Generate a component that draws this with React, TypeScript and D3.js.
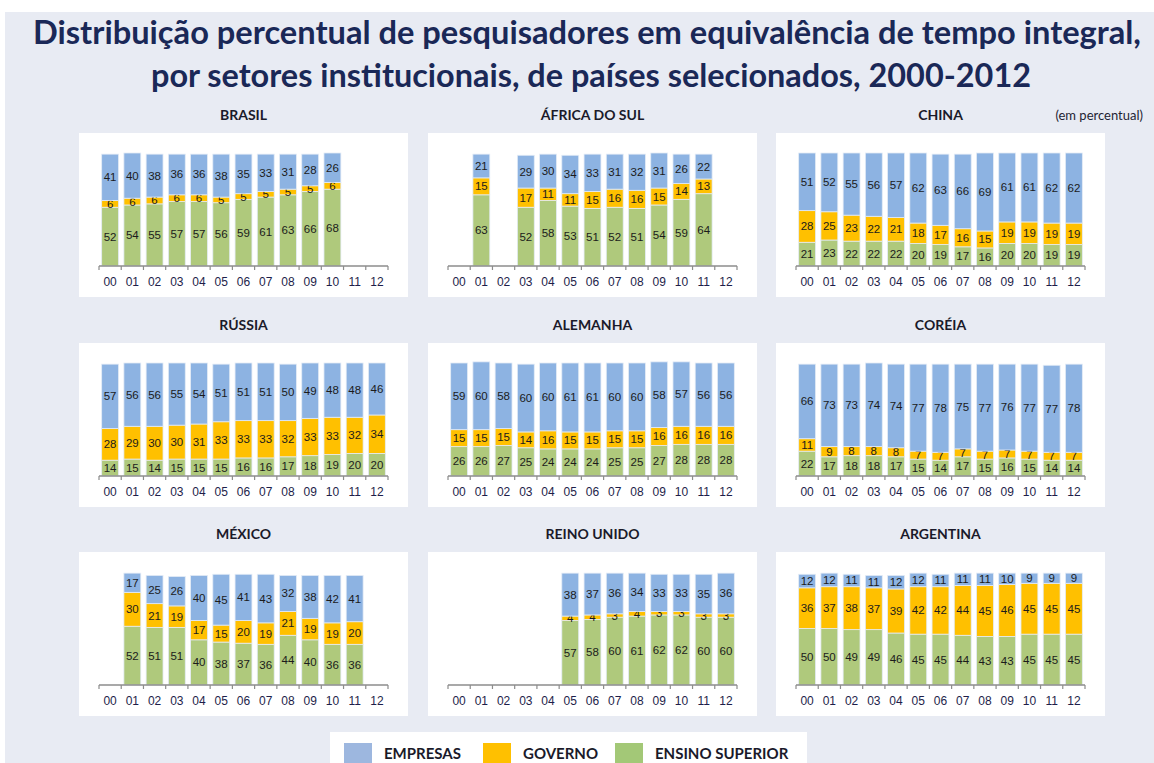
import React, { useRef, useEffect } from 'react';
import * as d3 from 'd3';

// years shown on every x axis
const years = ['00', '01', '02', '03', '04', '05', '06', '07', '08', '09', '10', '11', '12'];

// series per country (null = no data for that year)
const brasilEmpresas = [41, 40, 38, 36, 36, 38, 35, 33, 31, 28, 26, null, null];
const brasilGoverno = [6, 6, 6, 6, 6, 5, 5, 5, 5, 5, 6, null, null];
const brasilEnsino = [52, 54, 55, 57, 57, 56, 59, 61, 63, 66, 68, null, null];

const africaEmpresas = [null, 21, null, 29, 30, 34, 33, 31, 32, 31, 26, 22, null];
const africaGoverno = [null, 15, null, 17, 11, 11, 15, 16, 16, 15, 14, 13, null];
const africaEnsino = [null, 63, null, 52, 58, 53, 51, 52, 51, 54, 59, 64, null];

const chinaEmpresas = [51, 52, 55, 56, 57, 62, 63, 66, 69, 61, 61, 62, 62];
const chinaGoverno = [28, 25, 23, 22, 21, 18, 17, 16, 15, 19, 19, 19, 19];
const chinaEnsino = [21, 23, 22, 22, 22, 20, 19, 17, 16, 20, 20, 19, 19];

const russiaEmpresas = [57, 56, 56, 55, 54, 51, 51, 51, 50, 49, 48, 48, 46];
const russiaGoverno = [28, 29, 30, 30, 31, 33, 33, 33, 32, 33, 33, 32, 34];
const russiaEnsino = [14, 15, 14, 15, 15, 15, 16, 16, 17, 18, 19, 20, 20];

const alemanhaEmpresas = [59, 60, 58, 60, 60, 61, 61, 60, 60, 58, 57, 56, 56];
const alemanhaGoverno = [15, 15, 15, 14, 16, 15, 15, 15, 15, 16, 16, 16, 16];
const alemanhaEnsino = [26, 26, 27, 25, 24, 24, 24, 25, 25, 27, 28, 28, 28];

const coreiaEmpresas = [66, 73, 73, 74, 74, 77, 78, 75, 77, 76, 77, 77, 78];
const coreiaGoverno = [11, 9, 8, 8, 8, 7, 7, 7, 7, 7, 7, 7, 7];
const coreiaEnsino = [22, 17, 18, 18, 17, 15, 14, 17, 15, 16, 15, 14, 14];

const mexicoEmpresas = [null, 17, 25, 26, 40, 45, 41, 43, 32, 38, 42, 41, null];
const mexicoGoverno = [null, 30, 21, 19, 17, 15, 20, 19, 21, 19, 19, 20, null];
const mexicoEnsino = [null, 52, 51, 51, 40, 38, 37, 36, 44, 40, 36, 36, null];

const reinoEmpresas = [null, null, null, null, null, 38, 37, 36, 34, 33, 33, 35, 36];
const reinoGoverno = [null, null, null, null, null, 4, 4, 3, 4, 3, 3, 3, 3];
const reinoEnsino = [null, null, null, null, null, 57, 58, 60, 61, 62, 62, 60, 60];

const argentinaEmpresas = [12, 12, 11, 11, 12, 12, 11, 11, 11, 10, 9, 9, 9];
const argentinaGoverno = [36, 37, 38, 37, 39, 42, 42, 44, 45, 46, 45, 45, 45];
const argentinaEnsino = [50, 50, 49, 49, 46, 45, 45, 44, 43, 43, 45, 45, 45];

const countries = ['BRASIL', 'ÁFRICA DO SUL', 'CHINA', 'RÚSSIA', 'ALEMANHA', 'CORÉIA', 'MÉXICO', 'REINO UNIDO', 'ARGENTINA'];
const seriesNames = ['EMPRESAS', 'GOVERNO', 'ENSINO SUPERIOR'];

const countrySeries = [
    [brasilEmpresas, brasilGoverno, brasilEnsino],
    [africaEmpresas, africaGoverno, africaEnsino],
    [chinaEmpresas, chinaGoverno, chinaEnsino],
    [russiaEmpresas, russiaGoverno, russiaEnsino],
    [alemanhaEmpresas, alemanhaGoverno, alemanhaEnsino],
    [coreiaEmpresas, coreiaGoverno, coreiaEnsino],
    [mexicoEmpresas, mexicoGoverno, mexicoEnsino],
    [reinoEmpresas, reinoGoverno, reinoEnsino],
    [argentinaEmpresas, argentinaGoverno, argentinaEnsino],
];

const barColors = ['#8db3e2', '#ffc000', '#afc97c'];
const legendColors = ['#9db7df', '#ffc000', '#a3c877'];

const WIDTH = 1154, HEIGHT = 763;

const App = () => {
    const svgRef = useRef<SVGSVGElement>(null);

    useEffect(() => {
        const svg = d3.select(svgRef.current);
        svg.selectAll('*').remove();

        svg.append('rect').attr('width', WIDTH).attr('height', HEIGHT).attr('fill', '#ffffff');
        svg.append('rect').attr('x', 5).attr('y', 12).attr('width', WIDTH - 5).attr('height', HEIGHT - 12).attr('fill', '#e8ebf3');

        // title
        const titleColor = '#1a2857';
        svg.append('text')
            .attr('x', 587).attr('y', 44)
            .attr('text-anchor', 'middle')
            .attr('font-family', 'Lato, sans-serif').attr('font-weight', 700).attr('font-size', 33)
            .attr('fill', titleColor)
            .attr('textLength', 1108).attr('lengthAdjust', 'spacingAndGlyphs')
            .text('Distribuição percentual de pesquisadores em equivalência de tempo integral,');
        svg.append('text')
            .attr('x', 591).attr('y', 87)
            .attr('text-anchor', 'middle')
            .attr('font-family', 'Lato, sans-serif').attr('font-weight', 700).attr('font-size', 33)
            .attr('fill', titleColor)
            .attr('textLength', 880).attr('lengthAdjust', 'spacingAndGlyphs')
            .text('por setores institucionais, de países selecionados, 2000-2012');

        svg.append('text')
            .attr('x', 1143).attr('y', 120)
            .attr('text-anchor', 'end')
            .attr('font-family', 'Lato, sans-serif').attr('font-size', 13)
            .attr('fill', '#1f1f33')
            .text('(em percentual)');

        // panel grid
        const colX = [79, 428, 776];
        const rowY = [133, 343, 552];
        const panelW = 329, panelH = 164;

        const y = d3.scaleLinear().domain([0, 100]).range([113, 0]);

        countries.forEach((name, ci) => {
            const px = colX[ci % 3], py = rowY[Math.floor(ci / 3)];
            const g = svg.append('g').attr('transform', `translate(${px},${py})`);

            svg.append('text')
                .attr('x', px + panelW / 2).attr('y', py - 13)
                .attr('text-anchor', 'middle')
                .attr('font-family', 'Lato, sans-serif').attr('font-weight', 700).attr('font-size', 14)
                .attr('fill', '#1a1a2a')
                .text(name);

            g.append('rect').attr('width', panelW).attr('height', panelH).attr('fill', '#ffffff');

            const x = d3.scaleBand().domain(years).range([20, 309]).paddingInner(0.24).paddingOuter(0.12);
            const plot = g.append('g').attr('transform', 'translate(0,20)');

            const rows = years.map((yr, i) => ({
                year: yr,
                empresas: countrySeries[ci][0][i],
                governo: countrySeries[ci][1][i],
                ensino: countrySeries[ci][2][i],
            }));
            const valid = rows.filter(r => r.empresas != null);
            // stack order bottom-up: ensino, governo, empresas
            const stack = d3.stack<any>().keys(['ensino', 'governo', 'empresas'])(valid);
            const colorByKey: Record<string, string> = { empresas: barColors[0], governo: barColors[1], ensino: barColors[2] };

            stack.forEach(layer => {
                const lg = plot.append('g');
                lg.selectAll('rect').data(layer).enter().append('rect')
                    .attr('x', d => x(d.data.year)!)
                    .attr('width', x.bandwidth())
                    .attr('y', d => y(d[1]))
                    .attr('height', d => y(d[0]) - y(d[1]))
                    .attr('fill', colorByKey[layer.key])
                    .attr('stroke', '#e4ecf6').attr('stroke-width', 0.8);
                lg.selectAll('text').data(layer).enter().append('text')
                    .attr('x', d => x(d.data.year)! + x.bandwidth() / 2)
                    .attr('y', d => (y(d[0]) + y(d[1])) / 2 + 4)
                    .attr('text-anchor', 'middle')
                    .attr('font-family', 'Liberation Sans, Arial, sans-serif').attr('font-size', 11.5)
                    .attr('fill', '#1b1b1b')
                    .text(d => d.data[layer.key]);
            });

            // axis with ticks on band boundaries
            const axisY = 133;
            const axis = g.append('g');
            axis.append('line')
                .attr('x1', 20).attr('x2', 309).attr('y1', axisY).attr('y2', axisY)
                .attr('stroke', '#8c8c8c').attr('stroke-width', 1.5);
            d3.range(years.length + 1).forEach(k => {
                const tx = 20 + k * (289 / years.length);
                axis.append('line')
                    .attr('x1', tx).attr('x2', tx).attr('y1', axisY).attr('y2', axisY + 4)
                    .attr('stroke', '#8c8c8c').attr('stroke-width', 1.2);
            });
            axis.selectAll('text.tick').data(years).enter().append('text')
                .attr('class', 'tick')
                .attr('x', d => x(d)! + x.bandwidth() / 2)
                .attr('y', axisY + 20)
                .attr('text-anchor', 'middle')
                .attr('font-family', 'Liberation Sans, Arial, sans-serif').attr('font-size', 12)
                .attr('fill', '#1e1e4a')
                .text(d => d);
        });

        // legend
        svg.append('rect').attr('x', 330).attr('y', 732).attr('width', 477).attr('height', 40).attr('fill', '#ffffff');
        const legendX = [344, 483, 615];
        seriesNames.forEach((s, i) => {
            svg.append('rect')
                .attr('x', legendX[i]).attr('y', 743).attr('width', 28).attr('height', 22)
                .attr('fill', legendColors[i]);
            svg.append('text')
                .attr('x', legendX[i] + 40).attr('y', 759)
                .attr('font-family', 'Lato, sans-serif').attr('font-weight', 700).attr('font-size', 15)
                .attr('fill', '#1a1a2a')
                .text(s);
        });
    }, []);

    return (
        <div style={{ position: 'absolute', left: 0, top: 0 }}>
            <svg ref={svgRef} width={WIDTH} height={HEIGHT} style={{ display: 'block' }} />
        </div>
    );
};

export default App;
